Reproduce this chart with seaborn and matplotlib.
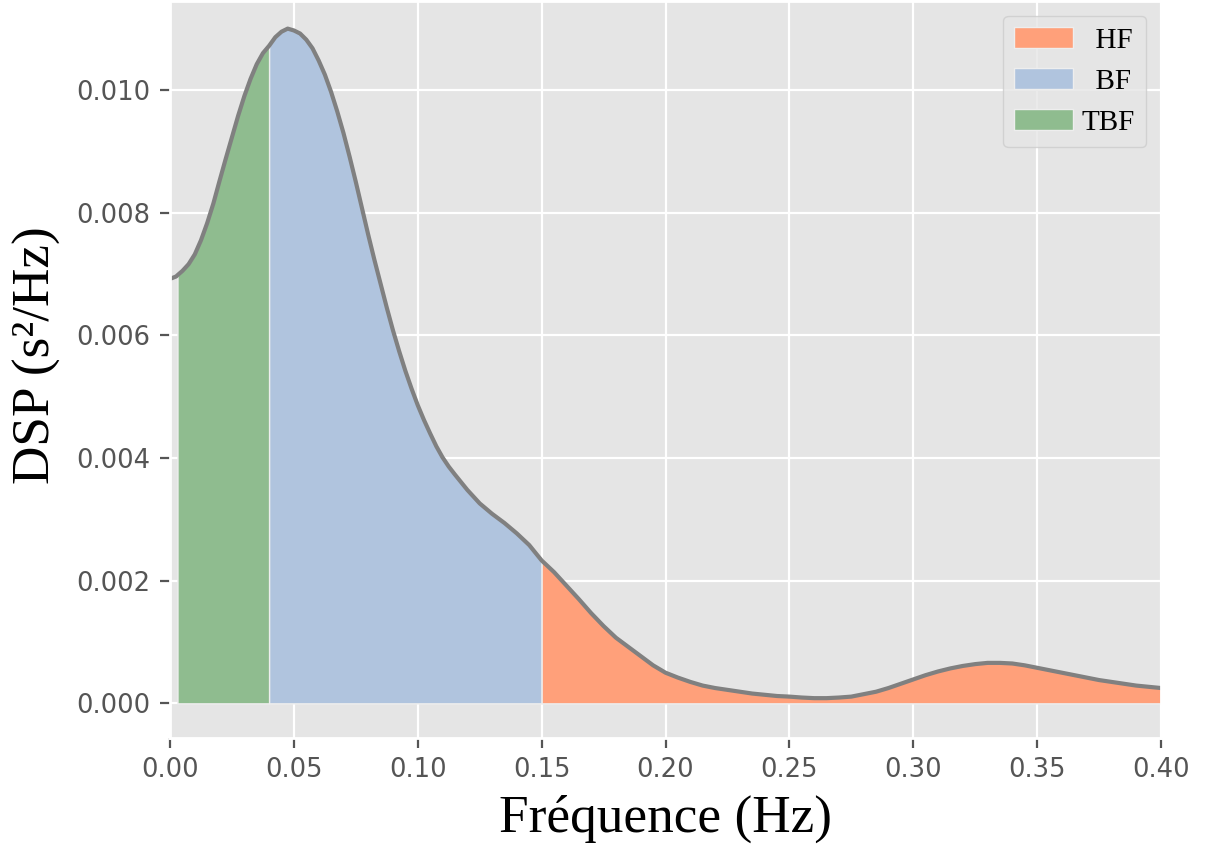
import numpy as np
import pandas as pd
import matplotlib
matplotlib.use("Agg")
import matplotlib.pyplot as plt
import seaborn as sns

plt.style.use('ggplot')

# spectre (Hz, s^2/Hz x 1e-3)
freq = [0.000, 0.0025, 0.003, 0.005, 0.0075, 0.010, 0.0125, 0.015, 0.0175, 0.020,
        0.0225, 0.025, 0.0275, 0.030, 0.0325, 0.035, 0.0375, 0.040, 0.0425, 0.045,
        0.0475, 0.050, 0.0525, 0.055, 0.0575, 0.060, 0.0625, 0.065, 0.0675, 0.070,
        0.0725, 0.075, 0.0775, 0.080, 0.0825, 0.085, 0.0875, 0.090, 0.0925, 0.095,
        0.0975, 0.100, 0.1025, 0.105, 0.1075, 0.110, 0.1125, 0.115, 0.120, 0.125,
        0.130, 0.135, 0.140, 0.145, 0.150, 0.155, 0.160, 0.165, 0.170, 0.175,
        0.180, 0.185, 0.190, 0.195, 0.200, 0.205, 0.210, 0.215, 0.220, 0.225,
        0.230, 0.235, 0.240, 0.245, 0.250, 0.255, 0.260, 0.265, 0.270, 0.275,
        0.280, 0.285, 0.290, 0.295, 0.300, 0.305, 0.310, 0.315, 0.320, 0.325,
        0.330, 0.335, 0.340, 0.345, 0.350, 0.355, 0.360, 0.365, 0.370, 0.375,
        0.380, 0.385, 0.390, 0.395, 0.400]
psd_milli = [6.92, 6.96, 6.98, 7.05, 7.16, 7.32, 7.55, 7.83, 8.15, 8.52,
             8.88, 9.23, 9.58, 9.90, 10.18, 10.42, 10.60, 10.72, 10.86, 10.95,
             11.00, 10.97, 10.92, 10.82, 10.68, 10.48, 10.25, 9.97, 9.65, 9.30,
             8.91, 8.50, 8.07, 7.64, 7.23, 6.84, 6.45, 6.08, 5.74, 5.42,
             5.13, 4.86, 4.62, 4.40, 4.19, 4.01, 3.86, 3.73, 3.48, 3.26,
             3.09, 2.94, 2.77, 2.58, 2.33, 2.14, 1.92, 1.70, 1.47, 1.26,
             1.07, 0.92, 0.77, 0.62, 0.50, 0.42, 0.35, 0.29, 0.25, 0.22,
             0.19, 0.16, 0.14, 0.12, 0.11, 0.095, 0.085, 0.085, 0.095, 0.11,
             0.15, 0.19, 0.25, 0.32, 0.39, 0.46, 0.52, 0.57, 0.61, 0.64,
             0.66, 0.66, 0.65, 0.62, 0.58, 0.54, 0.50, 0.46, 0.42, 0.38,
             0.35, 0.32, 0.29, 0.27, 0.25]

bands = ['TBF', 'BF', 'HF']
band_limits = [(0.003, 0.04), (0.04, 0.15), (0.15, 0.40)]
band_colors = ['#8fbc8f', '#b0c4de', '#ffa07a']
legend_labels = {'HF': '  HF', 'BF': '  BF', 'TBF': 'TBF'}

df = pd.DataFrame({'freq': freq, 'psd': np.array(psd_milli) * 1e-3})

fig = plt.figure(figsize=(6.055, 4.25), dpi=200)
ax = fig.add_axes([0.1404, 0.1321, 0.8183, 0.8667])

f = df['freq'].values
p = df['psd'].values
handles = {}
for name, (lo, hi), col in zip(bands, band_limits, band_colors):
    mask = (f >= lo - 1e-9) & (f <= hi + 1e-9)
    handles[name] = ax.fill_between(f, p, where=mask, color=col,
                                    edgecolor='#EEEEEE', linewidth=0.5,
                                    label=legend_labels[name])

sns.lineplot(data=df, x='freq', y='psd', color='gray', linewidth=1.5, ax=ax)

ax.set_xlim(0, 0.4)
ax.set_ylim(-0.00056, 0.01145)
ax.set_xticks(np.arange(0, 0.401, 0.05))
ax.set_yticks(np.arange(0, 0.0101, 0.002))
ax.tick_params(labelsize=9.3, colors='#555555')

ax.set_xlabel('Fréquence (Hz)', family='Liberation Serif', fontsize=19.2, color='black')
ax.set_ylabel('DSP (s²/Hz)', family='Liberation Serif', fontsize=19.2, color='black')
ax.yaxis.set_label_coords(-0.11, 0.52)

ax.legend([handles['HF'], handles['BF'], handles['TBF']],
          [legend_labels['HF'], legend_labels['BF'], legend_labels['TBF']],
          loc='upper right', prop={'family': 'Liberation Serif', 'size': 10.5},
          handletextpad=0.3)

fig.savefig('out.png', dpi=200)
